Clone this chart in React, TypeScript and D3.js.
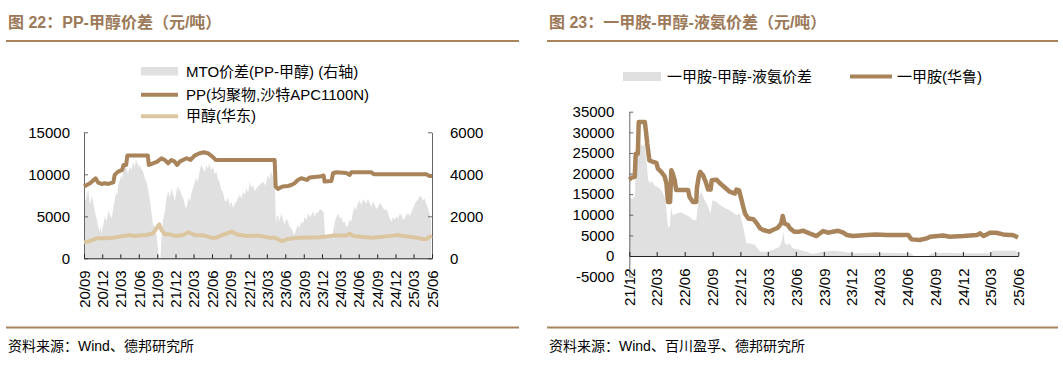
import React, { useEffect, useRef } from 'react';
import * as d3 from 'd3';

// ---- figure 22: PP - methanol spread ----
const leftTickLabels = ['20/09', '20/12', '21/03', '21/06', '21/09', '21/12', '22/03', '22/06', '22/09', '22/12',
  '23/03', '23/06', '23/09', '23/12', '24/03', '24/06', '24/09', '24/12', '25/03', '25/06'];

// MTO spread, right axis
const mtoSpread: [string, number][] = [
  ['2020-09-01', 3170], ['2020-09-07', 2700], ['2020-09-14', 2940], ['2020-09-22', 3300], ['2020-10-01', 2540],
  ['2020-10-09', 2950], ['2020-10-17', 2700], ['2020-10-25', 2200], ['2020-11-03', 1900], ['2020-11-11', 1500],
  ['2020-11-19', 1270], ['2020-11-23', 1600], ['2020-11-27', 1110], ['2020-12-01', 1400], ['2020-12-06', 1590],
  ['2020-12-14', 2000], ['2020-12-22', 1750], ['2020-12-31', 2250], ['2021-01-09', 2060], ['2021-01-17', 1900],
  ['2021-01-25', 2380], ['2021-02-03', 2900], ['2021-02-11', 3170], ['2021-02-14', 2950], ['2021-02-18', 3490],
  ['2021-02-26', 3700], ['2021-03-06', 3970], ['2021-03-10', 3750], ['2021-03-14', 4130], ['2021-03-22', 4500],
  ['2021-03-31', 4290], ['2021-04-08', 4050], ['2021-04-16', 4360], ['2021-04-25', 4200], ['2021-05-03', 4600],
  ['2021-05-11', 4350], ['2021-05-19', 4760], ['2021-05-23', 4450], ['2021-05-28', 4600], ['2021-06-01', 4300],
  ['2021-06-06', 4440], ['2021-06-14', 4250], ['2021-06-22', 4130], ['2021-07-01', 3800], ['2021-07-09', 3650],
  ['2021-07-17', 3300], ['2021-07-25', 2860], ['2021-08-03', 2200], ['2021-08-11', 1590], ['2021-08-20', 1500],
  ['2021-08-28', 1110], ['2021-09-06', 320], ['2021-09-11', 0], ['2021-09-17', 0], ['2021-09-22', 950],
  ['2021-10-01', 1900], ['2021-10-09', 2220], ['2021-10-17', 2900], ['2021-10-25', 3170], ['2021-11-03', 2900],
  ['2021-11-11', 3330], ['2021-11-19', 3050], ['2021-11-28', 2700], ['2021-12-06', 3200], ['2021-12-14', 3490],
  ['2021-12-18', 3150], ['2021-12-22', 3330], ['2021-12-31', 3000], ['2022-01-09', 2860], ['2022-01-17', 2500],
  ['2022-01-25', 2380], ['2022-02-03', 2900], ['2022-02-11', 2700], ['2022-02-18', 3100], ['2022-02-26', 3330],
  ['2022-03-06', 3600], ['2022-03-14', 3810], ['2022-03-22', 3650], ['2022-03-31', 4130], ['2022-04-08', 4450],
  ['2022-04-17', 4290], ['2022-04-25', 4100], ['2022-05-03', 4440], ['2022-05-11', 4250], ['2022-05-19', 4520],
  ['2022-05-28', 4200], ['2022-06-06', 4360], ['2022-06-14', 4000], ['2022-06-22', 4130], ['2022-07-01', 3750],
  ['2022-07-09', 3650], ['2022-07-17', 3250], ['2022-07-25', 3170], ['2022-08-03', 2750], ['2022-08-11', 2700],
  ['2022-08-19', 2900], ['2022-08-28', 2540], ['2022-09-05', 2700], ['2022-09-14', 2380], ['2022-09-22', 2600],
  ['2022-10-01', 2700], ['2022-10-09', 2900], ['2022-10-17', 3020], ['2022-10-25', 2850], ['2022-11-03', 3170],
  ['2022-11-11', 3000], ['2022-11-19', 3330], ['2022-11-28', 3100], ['2022-12-06', 3650], ['2022-12-14', 3350],
  ['2022-12-22', 3490], ['2022-12-31', 3200], ['2023-01-09', 3330], ['2023-01-25', 3500], ['2023-02-11', 3650],
  ['2023-02-22', 3450], ['2023-03-06', 3970], ['2023-03-14', 3750], ['2023-03-22', 4130], ['2023-04-04', 3810],
  ['2023-04-10', 3650], ['2023-04-15', 1590], ['2023-04-20', 2000], ['2023-04-25', 2060], ['2023-05-03', 1750],
  ['2023-05-12', 2140], ['2023-05-20', 1900], ['2023-05-28', 1590], ['2023-06-05', 1900], ['2023-06-14', 1750],
  ['2023-06-22', 1500], ['2023-07-01', 1430], ['2023-07-09', 1250], ['2023-07-17', 1110], ['2023-07-25', 1400],
  ['2023-08-03', 1590], ['2023-08-11', 1450], ['2023-08-20', 1750], ['2023-08-28', 1650], ['2023-09-06', 1980],
  ['2023-09-14', 1800], ['2023-09-22', 2140], ['2023-10-01', 1950], ['2023-10-09', 2060], ['2023-10-17', 2250],
  ['2023-10-25', 1980], ['2023-11-03', 2200], ['2023-11-11', 2140], ['2023-11-19', 2350], ['2023-11-28', 2300],
  ['2023-12-09', 2220], ['2023-12-16', 1110], ['2023-12-31', 950], ['2024-01-22', 1110], ['2024-02-03', 1750],
  ['2024-02-11', 1950], ['2024-02-19', 2140], ['2024-02-27', 1900], ['2024-03-06', 1980], ['2024-03-14', 1700],
  ['2024-03-22', 1750], ['2024-03-31', 1500], ['2024-04-09', 1590], ['2024-04-17', 1850], ['2024-04-25', 1750],
  ['2024-05-03', 2200], ['2024-05-11', 2460], ['2024-05-19', 2300], ['2024-05-28', 2620], ['2024-06-05', 2750],
  ['2024-06-14', 2540], ['2024-06-22', 2800], ['2024-06-30', 2700], ['2024-07-09', 2600], ['2024-07-17', 2860],
  ['2024-07-25', 2650], ['2024-08-03', 2460], ['2024-08-11', 2700], ['2024-08-20', 2540], ['2024-08-28', 2350],
  ['2024-09-06', 2460], ['2024-09-14', 2650], ['2024-09-22', 2540], ['2024-10-01', 2400], ['2024-10-09', 2300],
  ['2024-10-17', 2350], ['2024-10-25', 2140], ['2024-11-03', 1900], ['2024-11-11', 1750], ['2024-11-19', 1950],
  ['2024-11-28', 1830], ['2024-12-06', 2000], ['2024-12-14', 1900], ['2024-12-22', 2100], ['2024-12-31', 2060],
  ['2025-01-08', 1850], ['2025-01-17', 1900], ['2025-01-25', 2100], ['2025-02-03', 2140], ['2025-02-11', 2000],
  ['2025-02-19', 2220], ['2025-02-27', 2400], ['2025-03-06', 2540], ['2025-03-14', 2700], ['2025-03-22', 2780],
  ['2025-03-31', 2950], ['2025-04-09', 2940], ['2025-04-17', 2750], ['2025-04-25', 2860], ['2025-05-03', 2600],
  ['2025-05-12', 2380], ['2025-05-20', 2100], ['2025-05-28', 1750],
];

// PP homopolymer (Saudi APC1100N)
const ppPrice: [string, number][] = [
  ['2020-09-01', 8540], ['2020-10-01', 8930], ['2020-10-29', 9530], ['2020-11-11', 9000], ['2020-11-27', 8850],
  ['2020-12-14', 8930], ['2020-12-31', 8850], ['2021-01-25', 9050], ['2021-02-01', 9925], ['2021-02-18', 10320],
  ['2021-03-10', 10520], ['2021-03-17', 11110], ['2021-03-30', 11110], ['2021-04-05', 12230], ['2021-07-16', 12230],
  ['2021-07-21', 11110], ['2021-08-11', 11310], ['2021-09-01', 11510], ['2021-09-22', 11910], ['2021-10-08', 11710],
  ['2021-10-25', 11310], ['2021-11-11', 11710], ['2021-11-27', 11510], ['2021-12-09', 11110], ['2021-12-22', 11510],
  ['2022-01-25', 11910], ['2022-02-14', 11710], ['2022-03-06', 12230], ['2022-03-31', 12510], ['2022-04-20', 12630],
  ['2022-05-11', 12510], ['2022-06-03', 12110], ['2022-06-19', 11710], ['2023-04-09', 11710], ['2023-04-14', 8540],
  ['2023-04-25', 8260], ['2023-05-19', 8540], ['2023-06-14', 8610], ['2023-07-01', 8730], ['2023-07-17', 8930],
  ['2023-08-03', 9330], ['2023-08-20', 9530], ['2023-09-17', 9330], ['2023-09-30', 9610], ['2023-11-19', 9730],
  ['2023-12-09', 9850], ['2023-12-14', 9130], ['2024-01-17', 9210], ['2024-01-25', 10120], ['2024-02-11', 10240],
  ['2024-03-31', 10160], ['2024-04-17', 9925], ['2024-04-25', 10240], ['2024-08-03', 10240], ['2024-08-15', 10000],
  ['2025-05-04', 10000], ['2025-05-19', 9800], ['2025-06-01', 9800],
];

// methanol, East China
const methanolPrice: [string, number][] = [
  ['2020-09-01', 1900], ['2020-10-01', 2060], ['2020-11-03', 2380], ['2020-12-22', 2380], ['2021-01-25', 2460],
  ['2021-02-26', 2580], ['2021-04-16', 2780], ['2021-05-03', 2660], ['2021-07-09', 2780], ['2021-08-11', 2980],
  ['2021-08-28', 3570], ['2021-09-11', 4050], ['2021-09-22', 3380], ['2021-10-09', 2860], ['2021-11-03', 2860],
  ['2021-11-28', 2660], ['2022-01-09', 2780], ['2022-02-03', 3100], ['2022-03-06', 2780], ['2022-04-25', 2700],
  ['2022-05-28', 2460], ['2022-06-22', 2460], ['2022-07-25', 2780], ['2022-09-06', 3180], ['2022-10-01', 2860],
  ['2022-11-19', 2660], ['2023-01-17', 2700], ['2023-03-14', 2460], ['2023-04-09', 2460], ['2023-05-03', 2180],
  ['2023-05-19', 2060], ['2023-06-14', 2300], ['2023-08-11', 2460], ['2023-11-19', 2500], ['2024-01-25', 2700],
  ['2024-03-31', 2700], ['2024-04-17', 2940], ['2024-05-03', 2660], ['2024-07-09', 2500], ['2024-08-11', 2460],
  ['2024-11-19', 2700], ['2024-12-13', 2780], ['2025-01-08', 2660], ['2025-03-14', 2460], ['2025-04-16', 2300],
  ['2025-05-03', 2300], ['2025-05-19', 2540], ['2025-06-01', 2660],
];

// ---- figure 23: monomethylamine - methanol - liquid ammonia spread ----
const rightTickLabels = ['21/12', '22/03', '22/06', '22/09', '22/12', '23/03', '23/06', '23/09', '23/12',
  '24/03', '24/06', '24/09', '24/12', '25/03', '25/06'];

const mmaSpread: [string, number][] = [
  ['2021-12-01', 14350], ['2021-12-10', 13800], ['2021-12-19', 14350], ['2021-12-22', 20000], ['2021-12-26', 24800],
  ['2022-01-03', 26000], ['2022-01-10', 27200], ['2022-01-15', 26500], ['2022-01-21', 27200], ['2022-01-27', 22400],
  ['2022-02-01', 18500], ['2022-02-07', 17600], ['2022-02-12', 18200], ['2022-02-18', 17600], ['2022-02-23', 17000],
  ['2022-02-28', 16900], ['2022-03-08', 16500], ['2022-03-16', 16000], ['2022-03-21', 15300], ['2022-03-27', 14350],
  ['2022-04-02', 11100], ['2022-04-07', 7100], ['2022-04-13', 7100], ['2022-04-17', 11900], ['2022-04-23', 9900],
  ['2022-05-05', 10300], ['2022-05-20', 10600], ['2022-06-07', 9900], ['2022-06-17', 9500], ['2022-06-28', 8700],
  ['2022-07-09', 8700], ['2022-07-18', 14350], ['2022-07-25', 15550], ['2022-08-06', 13500], ['2022-08-17', 11900],
  ['2022-08-25', 10300], ['2022-08-31', 13500], ['2022-09-14', 13100], ['2022-09-24', 12400], ['2022-10-05', 11900],
  ['2022-10-15', 11500], ['2022-10-27', 11100], ['2022-11-08', 10400], ['2022-11-18', 9900], ['2022-11-29', 10300],
  ['2022-12-10', 7100], ['2022-12-21', 3060], ['2023-01-01', 3060], ['2023-01-18', 2660], ['2023-02-04', 1050],
  ['2023-02-24', 1050], ['2023-03-17', 1450], ['2023-04-09', 2260], ['2023-04-17', 3870], ['2023-04-21', 5900],
  ['2023-04-26', 3060], ['2023-05-06', 2660], ['2023-05-11', 3060], ['2023-05-22', 1850], ['2023-06-13', 1450],
  ['2023-07-05', 1050], ['2023-07-27', 480], ['2023-08-30', 1050], ['2023-10-05', 1300], ['2023-11-04', 1050],
  ['2023-12-06', 650], ['2024-03-10', 800], ['2024-06-13', 650], ['2024-06-24', 0], ['2024-08-09', 0],
  ['2024-08-20', 650], ['2024-09-27', 800], ['2024-12-15', 650], ['2025-02-28', 650], ['2025-03-10', 1300],
  ['2025-05-25', 1300], ['2025-05-31', 650],
];

// monomethylamine (Hualu)
const mmaPrice: [string, number][] = [
  ['2021-12-01', 18540], ['2021-12-08', 19000], ['2021-12-19', 19200], ['2021-12-22', 24800], ['2021-12-29', 24800],
  ['2022-01-01', 32500], ['2022-01-21', 32500], ['2022-01-25', 30000], ['2022-01-29', 27200], ['2022-02-05', 23200],
  ['2022-02-18', 22800], ['2022-02-28', 22600], ['2022-03-05', 21200], ['2022-03-16', 20400], ['2022-03-27', 19300],
  ['2022-04-02', 17600], ['2022-04-07', 13100], ['2022-04-14', 13100], ['2022-04-18', 20800], ['2022-04-23', 20000],
  ['2022-04-29', 18400], ['2022-05-04', 16000], ['2022-06-12', 16000], ['2022-06-17', 14300], ['2022-06-28', 13100],
  ['2022-07-09', 13100], ['2022-07-11', 16400], ['2022-07-18', 19600], ['2022-07-22', 20400], ['2022-07-31', 19600],
  ['2022-08-09', 18000], ['2022-08-17', 16100], ['2022-08-25', 16100], ['2022-08-29', 18400], ['2022-09-14', 18500],
  ['2022-09-24', 17700], ['2022-10-11', 16600], ['2022-10-27', 15600], ['2022-11-13', 15150], ['2022-11-18', 16100],
  ['2022-11-27', 15900], ['2022-12-05', 13500], ['2022-12-16', 10300], ['2022-12-27', 9100], ['2023-01-13', 8900],
  ['2023-01-24', 7900], ['2023-02-04', 6700], ['2023-02-14', 6300], ['2023-03-06', 5900], ['2023-03-17', 6300],
  ['2023-04-03', 6850], ['2023-04-14', 7900], ['2023-04-19', 9700], ['2023-04-25', 7900], ['2023-05-06', 7500],
  ['2023-05-13', 6700], ['2023-05-27', 5900], ['2023-06-13', 5900], ['2023-06-24', 6150], ['2023-07-16', 5480],
  ['2023-08-08', 4840], ['2023-08-30', 6050], ['2023-09-15', 5650], ['2023-10-01', 5900], ['2023-10-18', 6100],
  ['2023-11-04', 5650], ['2023-11-15', 5100], ['2023-12-06', 4840], ['2024-01-20', 5100], ['2024-02-21', 5240],
  ['2024-03-24', 5100], ['2024-06-04', 5100], ['2024-06-15', 4030], ['2024-07-12', 3870], ['2024-08-04', 4270],
  ['2024-08-15', 4680], ['2024-09-27', 4990], ['2024-10-19', 4680], ['2024-12-02', 4840], ['2025-01-16', 5100],
  ['2025-01-27', 5480], ['2025-02-07', 4840], ['2025-02-28', 5640], ['2025-03-20', 5640], ['2025-04-12', 5240],
  ['2025-05-03', 5100], ['2025-05-14', 5100], ['2025-05-31', 4500],
];

const FONT = '"Liberation Sans", Arial, "Noto Sans CJK SC", sans-serif';
const BROWN = '#a9845b';
const TAN = '#dbc6a0';
const GRAY = '#e0e0e0';
const TITLE_COLOR = '#9c7959';
const RULE_COLOR = '#a8845f';

const parseDay = d3.timeParse('%Y-%m-%d');
const parseTick = d3.timeParse('%y/%m');
const plain = d => String(d);

function styleAxis(g, color) {
  g.attr('font-family', FONT).attr('font-size', 15);
  g.select('.domain').attr('stroke', color);
  g.selectAll('.tick line').attr('stroke', color);
  g.selectAll('.tick text').attr('fill', '#000');
}

function rotateLabels(g, offset) {
  g.selectAll('.tick text')
    .attr('transform', 'rotate(-90)')
    .attr('x', -offset)
    .attr('y', 0)
    .attr('dy', '0.35em')
    .style('text-anchor', 'end');
}

function drawFrame(svg, x0, x1, title, source) {
  svg.append('text').attr('x', x0 + 2).attr('y', 28)
    .attr('font-family', FONT).attr('font-size', 16).attr('font-weight', 'bold')
    .attr('fill', TITLE_COLOR).text(title);
  svg.append('line').attr('x1', x0).attr('x2', x1).attr('y1', 41).attr('y2', 41)
    .attr('stroke', RULE_COLOR).attr('stroke-width', 2);
  svg.append('line').attr('x1', x0).attr('x2', x1).attr('y1', 327.5).attr('y2', 327.5)
    .attr('stroke', RULE_COLOR).attr('stroke-width', 2);
  svg.append('text').attr('x', x0 + 2).attr('y', 351)
    .attr('font-family', FONT).attr('font-size', 14).attr('fill', '#000').text(source);
}

function drawLeft(svg) {
  const x = d3.scaleTime().domain([parseTick('20/09'), parseTick('25/06')]).range([84, 432]);
  const yL = d3.scaleLinear().domain([0, 15000]).range([258.3, 132.3]);
  const yR = d3.scaleLinear().domain([0, 6000]).range([258.3, 132.3]);

  drawFrame(svg, 6, 519, '图 22：PP-甲醇价差（元/吨）', '资料来源：Wind、德邦研究所');

  svg.append('path').datum(mtoSpread)
    .attr('d', d3.area().x(d => x(parseDay(d[0]))).y0(yR(0)).y1(d => yR(d[1])))
    .attr('fill', GRAY);

  const gy = svg.append('g').attr('transform', `translate(${x.range()[0]},0)`)
    .call(d3.axisLeft(yL).tickValues([0, 5000, 10000, 15000]).tickFormat(plain)
      .tickSizeInner(-4).tickSizeOuter(0).tickPadding(14));
  styleAxis(gy, '#666');
  const gr = svg.append('g').attr('transform', `translate(${x.range()[1]},0)`)
    .call(d3.axisRight(yR).tickValues([0, 2000, 4000, 6000]).tickFormat(plain)
      .tickSizeInner(-4).tickSizeOuter(0).tickPadding(18));
  styleAxis(gr, '#666');
  const gx = svg.append('g').attr('transform', `translate(0,${yL(0)})`)
    .call(d3.axisBottom(x).tickValues(leftTickLabels.map(parseTick)).tickFormat(d3.timeFormat('%y/%m'))
      .tickSizeInner(-4).tickSizeOuter(0));
  styleAxis(gx, '#222');
  rotateLabels(gx, 12);

  const line = d3.line().x(d => x(parseDay(d[0]))).y(d => yL(d[1]));
  svg.append('path').datum(methanolPrice).attr('d', line)
    .attr('fill', 'none').attr('stroke', TAN).attr('stroke-width', 4).attr('stroke-linejoin', 'round');
  svg.append('path').datum(ppPrice).attr('d', line)
    .attr('fill', 'none').attr('stroke', BROWN).attr('stroke-width', 4).attr('stroke-linejoin', 'round');

  // legend
  const lg = svg.append('g').attr('font-family', FONT).attr('font-size', 15);
  lg.append('rect').attr('x', 141).attr('y', 67).attr('width', 37).attr('height', 8.5).attr('fill', GRAY);
  lg.append('text').attr('x', 186).attr('y', 71.3).attr('dy', '0.35em').text('MTO价差(PP-甲醇) (右轴)');
  lg.append('line').attr('x1', 141).attr('x2', 178).attr('y1', 94.8).attr('y2', 94.8)
    .attr('stroke', BROWN).attr('stroke-width', 4);
  lg.append('text').attr('x', 186).attr('y', 94.8).attr('dy', '0.35em').text('PP(均聚物,沙特APC1100N)');
  lg.append('line').attr('x1', 141).attr('x2', 178).attr('y1', 116.2).attr('y2', 116.2)
    .attr('stroke', TAN).attr('stroke-width', 4);
  lg.append('text').attr('x', 186).attr('y', 116.2).attr('dy', '0.35em').text('甲醇(华东)');
}

function drawRight(svg) {
  const x = d3.scaleTime().domain([parseTick('21/12'), parseTick('25/06')]).range([629.3, 1018.3]);
  const y = d3.scaleLinear().domain([-5000, 35000]).range([276.6, 111.7]);

  drawFrame(svg, 547, 1058, '图 23：一甲胺-甲醇-液氨价差（元/吨）', '资料来源：Wind、百川盈孚、德邦研究所');

  svg.append('path').datum(mmaSpread)
    .attr('d', d3.area().x(d => x(parseDay(d[0]))).y0(y(0)).y1(d => y(d[1])))
    .attr('fill', GRAY);

  const gy = svg.append('g').attr('transform', `translate(${x.range()[0]},0)`)
    .call(d3.axisLeft(y).tickValues(d3.range(-5000, 35001, 5000)).tickFormat(plain)
      .tickSizeInner(-4).tickSizeOuter(0).tickPadding(15));
  styleAxis(gy, '#666');
  const gx = svg.append('g').attr('transform', `translate(0,${y(0)})`)
    .call(d3.axisBottom(x).tickValues(rightTickLabels.map(parseTick)).tickFormat(d3.timeFormat('%y/%m'))
      .tickSizeInner(-4).tickSizeOuter(0));
  styleAxis(gx, '#222');
  rotateLabels(gx, 12.5);

  svg.append('path').datum(mmaPrice)
    .attr('d', d3.line().x(d => x(parseDay(d[0]))).y(d => y(d[1])))
    .attr('fill', 'none').attr('stroke', BROWN).attr('stroke-width', 4.5).attr('stroke-linejoin', 'round');

  const lg = svg.append('g').attr('font-family', FONT).attr('font-size', 15);
  lg.append('rect').attr('x', 623).attr('y', 72).attr('width', 38).attr('height', 9).attr('fill', GRAY);
  lg.append('text').attr('x', 667).attr('y', 76.5).attr('dy', '0.35em').text('一甲胺-甲醇-液氨价差');
  lg.append('line').attr('x1', 850).attr('x2', 892).attr('y1', 76.5).attr('y2', 76.5)
    .attr('stroke', BROWN).attr('stroke-width', 4);
  lg.append('text').attr('x', 897).attr('y', 76.5).attr('dy', '0.35em').text('一甲胺(华鲁)');
}

export default function App() {
  const svgRef = useRef(null);
  useEffect(() => {
    const svg = d3.select(svgRef.current);
    svg.selectAll('*').remove();
    drawLeft(svg);
    drawRight(svg);
  }, []);
  return (
    <svg ref={svgRef} width={1063} height={366}
      style={{ position: 'absolute', left: 0, top: 0, background: '#fff' }} />
  );
}
